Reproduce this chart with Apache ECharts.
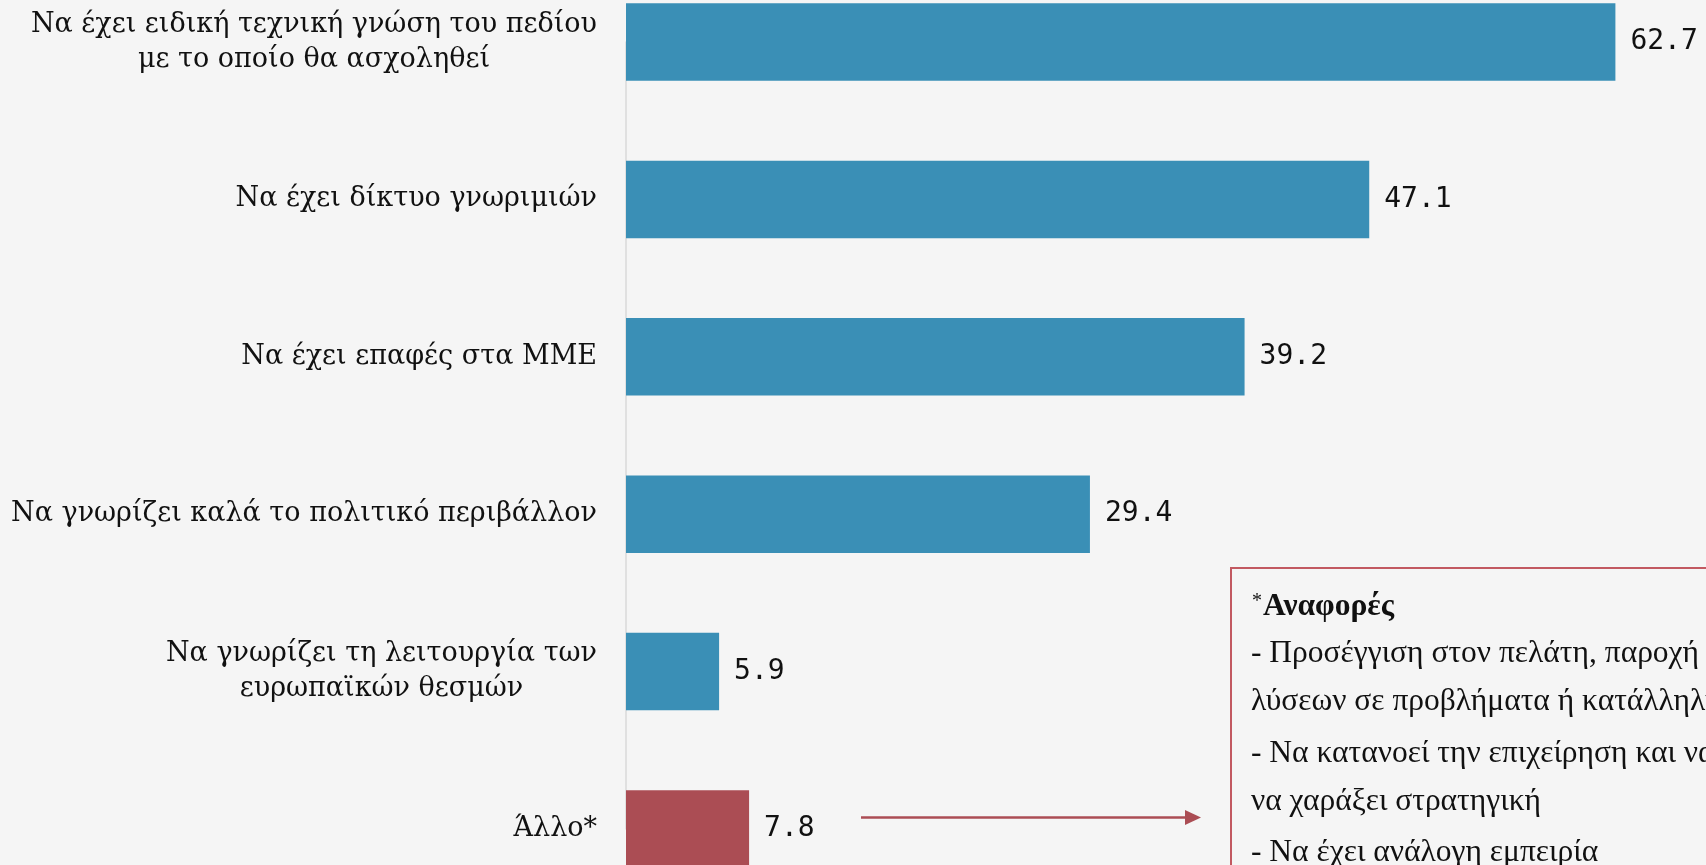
<!DOCTYPE html>
<html>
<head>
<meta charset="utf-8">
<script src="https://cdn.jsdelivr.net/npm/echarts@6/dist/echarts.min.js"></script>
<style>
  html, body { margin: 0; padding: 0; background: #f5f5f5; }
  #chart { width: 1706px; height: 865px; }
</style>
</head>
<body>
<div id="chart"></div>
<script>
// data
const categories = [
  'Να έχει ειδική τεχνική γνώση του πεδίου\nμε το οποίο θα ασχοληθεί',
  'Να έχει δίκτυο γνωριμιών',
  'Να έχει επαφές στα ΜΜΕ',
  'Να γνωρίζει καλά το πολιτικό περιβάλλον',
  'Να γνωρίζει τη λειτουργία των\nευρωπαϊκών θεσμών',
  'Άλλο*'
];
const values = [62.7, 47.1, 39.2, 29.4, 5.9, 7.8];
const otherName = 'Άλλο*';
const noteTitle = 'Αναφορές';
const noteLines = [
  '- Προσέγγιση στον πελάτη, παροχή σωστών',
  'λύσεων σε προβλήματα ή κατάλληλης επικοινωνίας',
  '- Να κατανοεί την επιχείρηση και να',
  'να χαράξει στρατηγική',
  '- Να έχει ανάλογη εμπειρία'
];

const BLUE = '#3a8fb6';
const RED = '#ab4d54';
const NOTE_RED = '#c25961';
const serif = '"DejaVu Serif", serif';
const noteFont = '"Liberation Serif", serif';
const mono = '"DejaVu Sans Mono", monospace';

const chart = echarts.init(document.getElementById('chart'));

const noteY = [654, 702, 754, 802, 853]; // centre of each note line
const noteText = noteLines.map((t, i) => ({
  type: 'text',
  x: 1251,
  y: noteY[i],
  style: { text: t, font: '31.5px ' + noteFont, fill: '#111', verticalAlign: 'middle' }
}));

chart.setOption({
  backgroundColor: '#f5f5f5',
  animation: false,
  // bars overflow the top/bottom of the picture, so the axis has no boundary gap
  grid: { left: 626, right: 54.3, top: 42, bottom: 36, containLabel: false },
  xAxis: {
    type: 'value',
    min: 0,
    max: 65,
    show: false,
    splitLine: { show: false }
  },
  yAxis: {
    type: 'category',
    inverse: true,
    boundaryGap: false,
    data: categories,
    axisLine: { show: true, lineStyle: { color: '#d9d9d9', width: 1.5 } },
    axisTick: { show: false },
    splitLine: { show: false },
    axisLabel: {
      margin: 29,
      formatter: function (v) {
        return v.split('\n').map(l => '{c|' + l + '}').join('\n');
      },
      rich: {
        c: { align: 'center', fontFamily: serif, fontSize: 27, lineHeight: 35, color: '#111' }
      }
    }
  },
  series: [{
    type: 'bar',
    data: values,
    barWidth: 77.5,
    clip: false,
    itemStyle: {
      color: function (p) { return p.name === otherName ? RED : BLUE; }
    },
    label: {
      show: true,
      position: 'right',
      distance: 15,
      fontFamily: mono,
      fontSize: 28,
      color: '#111',
      formatter: p => p.value.toFixed(1)
    }
  }],
  graphic: [
    {
      type: 'line',
      shape: { x1: 861, y1: 817.5, x2: 1188, y2: 817.5 },
      style: { stroke: RED, lineWidth: 2.5 }
    },
    {
      type: 'polygon',
      shape: { points: [[1185, 810], [1201, 817.5], [1185, 825]] },
      style: { fill: RED }
    },
    {
      type: 'rect',
      shape: { x: 1231, y: 568, width: 700, height: 400 },
      style: { fill: 'none', stroke: NOTE_RED, lineWidth: 2 }
    },
    {
      type: 'text',
      x: 1252,
      y: 592,
      style: { text: '*', font: '20px ' + noteFont, fill: '#111', verticalAlign: 'top' }
    },
    {
      type: 'text',
      x: 1263,
      y: 607,
      style: { text: noteTitle, font: 'bold 31.5px ' + noteFont, fill: '#111', verticalAlign: 'middle' }
    }
  ].concat(noteText)
});
</script>
</body>
</html>
